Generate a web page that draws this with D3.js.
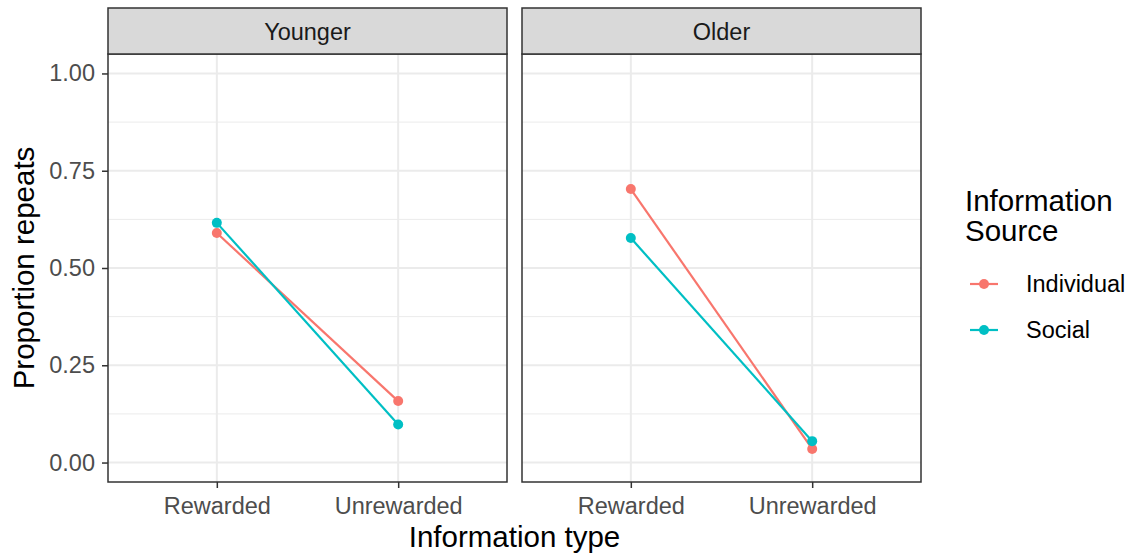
<!DOCTYPE html>
<html>
<head>
<meta charset="utf-8">
<script src="https://cdn.jsdelivr.net/npm/d3@7"></script>
<style>
  body { margin: 0; background: #fff; }
  svg { font-family: "Liberation Sans", Arial, sans-serif; }
</style>
</head>
<body>
<svg id="chart" width="1130" height="558"></svg>
<script>
const panels = ['Younger', 'Older']
const infoTypes = ['Rewarded', 'Unrewarded']
const sources = ['Individual', 'Social']
const sourceColors = ['#F8766D', '#00BFC4']
const yTicks = [0, 0.25, 0.5, 0.75, 1]
const yMinor = [0.125, 0.375, 0.625, 0.875]

// proportion repeats, [Rewarded, Unrewarded]
const youngerIndividual = [0.590, 0.158]
const youngerSocial = [0.616, 0.098]
const olderIndividual = [0.703, 0.035]
const olderSocial = [0.577, 0.055]

const panelData = {
  Younger: { Individual: youngerIndividual, Social: youngerSocial },
  Older: { Individual: olderIndividual, Social: olderSocial }
}

const panelLefts = [108, 522]
const panelWidth = 399
const stripTop = 8
const stripHeight = 46
const panelTop = stripTop + stripHeight
const panelBottom = 482
const smallFont = 23.5
const titleFont = 29.5
const pointR = 5
const lineW = 2.2

const svg = d3.select('#chart')

const yScale = d3.scaleLinear()
  .domain([-0.05, 1.05])
  .range([panelBottom, panelTop])

const color = d3.scaleOrdinal().domain(sources).range(sourceColors)

panels.forEach((name, i) => {
  const left = panelLefts[i]
  // discrete axis, 0.6 expand on each side
  const xScale = d3.scalePoint()
    .domain(infoTypes)
    .range([left, left + panelWidth])
    .padding(0.6)
  const g = svg.append('g')

  // grid
  g.selectAll('.minor').data(yMinor).join('line')
    .attr('x1', left).attr('x2', left + panelWidth)
    .attr('y1', d => yScale(d)).attr('y2', d => yScale(d))
    .attr('stroke', '#EBEBEB').attr('stroke-width', 1)
  g.selectAll('.major').data(yTicks).join('line')
    .attr('x1', left).attr('x2', left + panelWidth)
    .attr('y1', d => yScale(d)).attr('y2', d => yScale(d))
    .attr('stroke', '#EBEBEB').attr('stroke-width', 2)
  g.selectAll('.xmajor').data(infoTypes).join('line')
    .attr('x1', d => xScale(d)).attr('x2', d => xScale(d))
    .attr('y1', panelTop).attr('y2', panelBottom)
    .attr('stroke', '#EBEBEB').attr('stroke-width', 2)

  // lines and points
  sources.forEach(src => {
    const vals = panelData[name][src]
    const pts = infoTypes.map((t, j) => [xScale(t), yScale(vals[j])])
    g.append('path')
      .attr('d', d3.line()(pts))
      .attr('fill', 'none')
      .attr('stroke', color(src))
      .attr('stroke-width', lineW)
    g.selectAll(null).data(pts).join('circle')
      .attr('cx', d => d[0]).attr('cy', d => d[1])
      .attr('r', pointR)
      .attr('fill', color(src))
  })

  // panel border
  g.append('rect')
    .attr('x', left).attr('y', panelTop)
    .attr('width', panelWidth).attr('height', panelBottom - panelTop)
    .attr('fill', 'none').attr('stroke', '#333333').attr('stroke-width', 1.5)

  // strip
  g.append('rect')
    .attr('x', left).attr('y', stripTop)
    .attr('width', panelWidth).attr('height', stripHeight)
    .attr('fill', '#D9D9D9').attr('stroke', '#333333').attr('stroke-width', 1.5)
  g.append('text')
    .attr('x', left + panelWidth / 2).attr('y', stripTop + stripHeight / 2 + 1)
    .attr('dy', '0.35em').attr('text-anchor', 'middle')
    .attr('font-size', smallFont).attr('fill', '#1A1A1A')
    .text(name)

  // x axis
  const xAxis = g.append('g')
    .attr('transform', `translate(0,${panelBottom})`)
    .call(d3.axisBottom(xScale).tickSize(6).tickPadding(9))
  xAxis.select('.domain').remove()
  xAxis.selectAll('line').attr('stroke', '#333333').attr('stroke-width', 1.5)
  xAxis.selectAll('text').attr('font-size', smallFont).attr('fill', '#4D4D4D')
    .attr('font-family', '"Liberation Sans", Arial, sans-serif')

  if (i === 0) {
    const yAxis = g.append('g')
      .attr('transform', `translate(${left},0)`)
      .call(d3.axisLeft(yScale).tickValues(yTicks).tickFormat(d3.format('.2f')).tickSize(6).tickPadding(7))
    yAxis.select('.domain').remove()
    yAxis.selectAll('line').attr('stroke', '#333333').attr('stroke-width', 1.5)
    yAxis.selectAll('text').attr('font-size', smallFont).attr('fill', '#4D4D4D')
      .attr('font-family', '"Liberation Sans", Arial, sans-serif')
  }
})

// axis titles
svg.append('text')
  .attr('x', (panelLefts[0] + panelLefts[1] + panelWidth) / 2).attr('y', 547)
  .attr('text-anchor', 'middle').attr('font-size', titleFont).attr('fill', '#000')
  .text('Information type')
svg.append('text')
  .attr('transform', `translate(34,${(panelTop + panelBottom) / 2}) rotate(-90)`)
  .attr('text-anchor', 'middle').attr('font-size', titleFont).attr('fill', '#000')
  .text('Proportion repeats')

// legend
const legend = svg.append('g').attr('transform', 'translate(965,0)')
legend.append('text').attr('x', 0).attr('y', 211)
  .attr('font-size', titleFont).attr('fill', '#000').text('Information')
legend.append('text').attr('x', 0).attr('y', 241)
  .attr('font-size', titleFont).attr('fill', '#000').text('Source')
sources.forEach((src, k) => {
  const cy = 284 + k * 46
  legend.append('line')
    .attr('x1', 5).attr('x2', 33).attr('y1', cy).attr('y2', cy)
    .attr('stroke', color(src)).attr('stroke-width', lineW)
  legend.append('circle').attr('cx', 19).attr('cy', cy).attr('r', pointR).attr('fill', color(src))
  legend.append('text').attr('x', 61).attr('y', cy).attr('dy', '0.35em')
    .attr('font-size', smallFont).attr('fill', '#000').text(src)
})
</script>
</body>
</html>
